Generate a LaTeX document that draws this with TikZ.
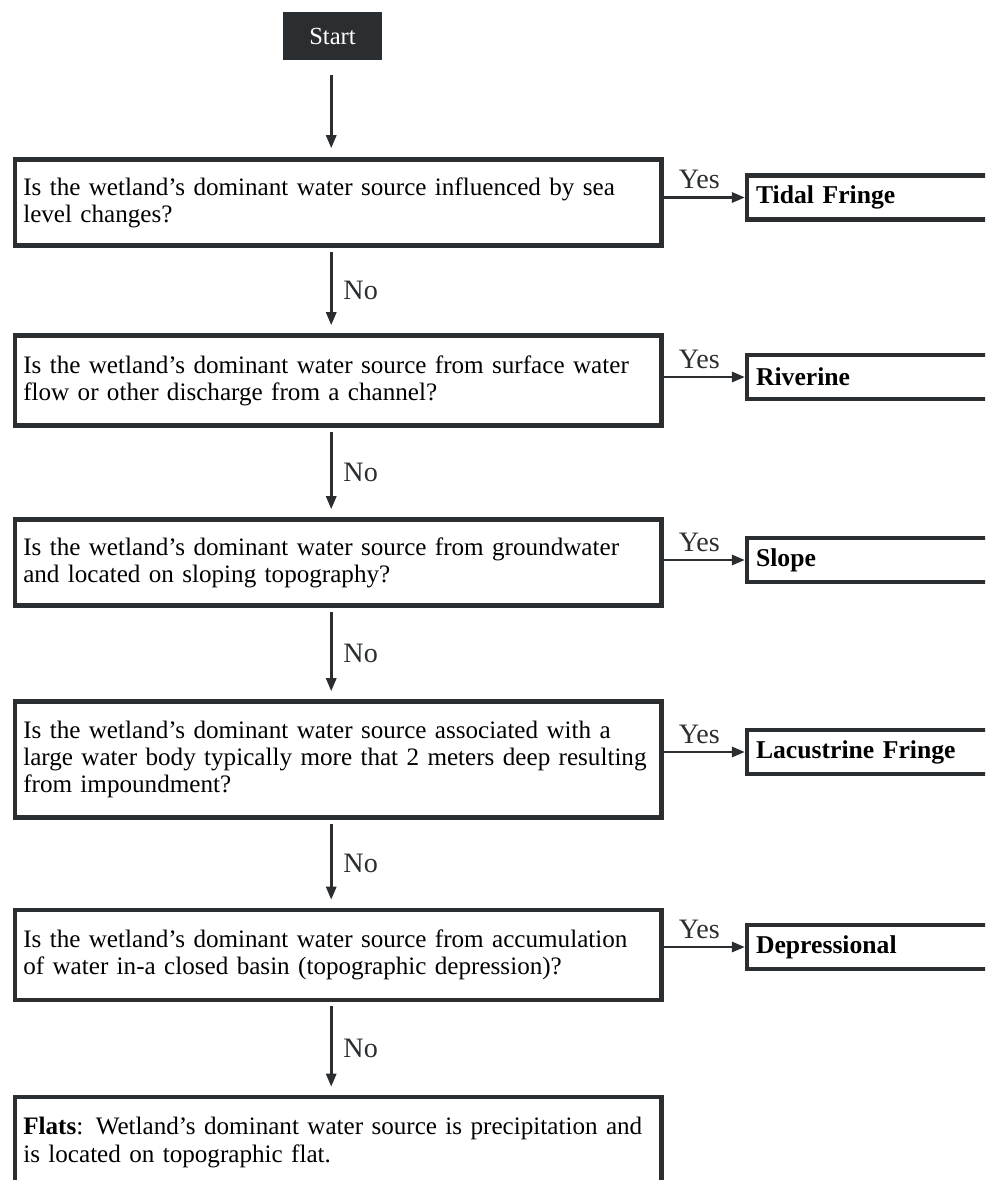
\documentclass[tikz,border=0pt]{standalone}
\usepackage{fontspec}
\setmainfont{Liberation Serif}
\usetikzlibrary{positioning,arrows.meta}

\definecolor{inkgray}{HTML}{2B2E30}

\begin{document}
\begin{tikzpicture}[x=0.02cm,y=-0.02cm,
  question/.style={draw=inkgray,rectangle,line width=2.6pt,anchor=west,
    minimum width=12.94cm,text width=12.6cm,inner xsep=0.17cm,align=left,
    font=\fontsize{14.3}{15.5}\selectfont},
  answer/.style={draw=inkgray,rectangle,line width=2.4pt,
    minimum width=6cm,minimum height=0.88cm,text width=5.7cm,inner xsep=0.18cm,
    align=left,font=\fontsize{14.6}{15.5}\selectfont\bfseries},
  flow/.style={draw=inkgray,line width=1.6pt,-{Triangle[length=0.26cm,width=0.2cm]}},
  lbl/.style={font=\fontsize{16}{17}\selectfont,text=inkgray}]

\useasboundingbox (0,0) rectangle (985,1180);
\clip (0,0) rectangle (985,1180);

\node[fill=inkgray,minimum width=1.98cm,minimum height=0.96cm,text=white,
  font=\fontsize{14}{16}\selectfont] (start) at (332.5,36) {Start};

% questions, top to bottom
\node[question,minimum height=1.72cm] (q-sea) at (12.5,202.5)
  {Is the wetland's dominant water source influenced by sea\\ level changes?};
\node[question,minimum height=1.80cm] (q-river) at (12.5,380.5)
  {Is the wetland's dominant water source from surface water\\ flow or other discharge from a channel?};
\node[question,minimum height=1.72cm] (q-slope) at (12.5,562.5)
  {Is the wetland's dominant water source from groundwater\\ and located on sloping topography?};
\node[question,minimum height=2.32cm] (q-lake) at (12.5,759.5)
  {Is the wetland's dominant water source associated with a\\ large water body typically more that 2 meters deep resulting\\ from impoundment?};
\node[question,minimum height=1.80cm] (q-basin) at (12.5,955)
  {Is the wetland's dominant water source from accumulation\\ of water in-a closed basin (topographic depression)?};
\node[question,minimum height=1.82cm] (flats) at (12.5,1142.5)
  {\textbf{Flats}: Wetland's dominant water source is precipitation and\\ is located on topographic flat.};

% wetland classes
\node[answer,right=1.62cm of q-sea,yshift=0.1cm] (tidal) {Tidal Fringe};
\node[answer,right=1.62cm of q-river,yshift=0.07cm] (riverine) {Riverine};
\node[answer,right=1.62cm of q-slope,yshift=0.05cm] (slope) {Slope};
\node[answer,right=1.62cm of q-lake,yshift=0.15cm] (lacustrine) {Lacustrine Fringe};
\node[answer,right=1.62cm of q-basin,yshift=0.16cm] (depressional) {Depressional};

\draw[flow,shorten <=0.3cm,shorten >=0.18cm] ([xshift=-0.14cm]q-sea.north |- start.south) -- ([xshift=-0.14cm]q-sea.north);

\foreach \a/\b in {q-sea/q-river,q-river/q-slope,q-slope/q-lake,q-lake/q-basin,q-basin/flats}
  \draw[flow,shorten <=0.08cm,shorten >=0.16cm] ([xshift=-0.14cm]\a.south) -- ([xshift=-0.14cm]\b.north)
    node[lbl,midway,right=0.1cm] {No};

\foreach \a/\b in {q-sea/tidal,q-river/riverine,q-slope/slope,q-lake/lacustrine,q-basin/depressional}
  \draw[flow] (\a.east |- \b.west) -- (\b.west)
    node[lbl,midway,above=0.02cm,xshift=-0.1cm] {Yes};
\end{tikzpicture}
\end{document}
